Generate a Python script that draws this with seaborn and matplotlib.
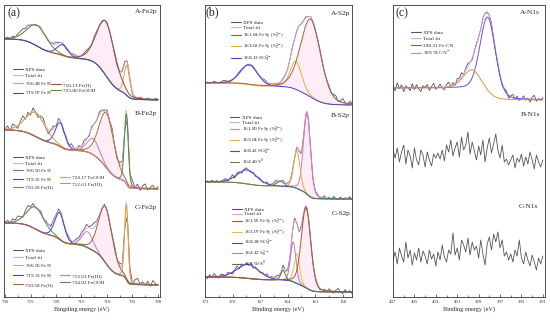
import numpy as np
import matplotlib
matplotlib.use('Agg')
import matplotlib.pyplot as plt
from matplotlib.lines import Line2D
from matplotlib.legend import Legend
from matplotlib.ticker import FixedLocator
import seaborn as sns

# ---------------- data (intensities in arbitrary units, stacked) ----------------
# panel (a) Fe2p
FE_A_LABELS = [r'706.48 FeS$_2$', '710.13 Fe(II)', r'719.07 FeS$_2$', '723.80 FeOOH']
FE_A_CENTER = [706.1, 710.2, 718.7, 723.7]
FE_A_HEIGHT = [30, 54, 11, 21]
FE_A_FWHM = [1.3, 4.2, 2.5, 4.5]
FE_A_BG = [261, 200]
FE_A_RESID = [0, 1, -1, 1.5, 0, 2, 3, 4, 2, 3,
              1, 0, -1, 0, 1, -1, 0, -1, 0, 1,
              2, 1, 0, -1, -2, -1, 0, 1, 0, -1,
              0, 1, 2, 1, 0, 2, 1, 0, -1, 0,
              1, 0, -1, -2, -3, -1, 1, 2, 0, -1,
              -2, -1, 0, 1, 0, -1, 1, 0, -1, 1,
              0]

FE_B_LABELS = [r'706.50 FeS$_2$', r'719.25 FeS$_2$', '710.20 Fe(II)', '724.17 FeOOH', '712.61 Fe(III)']
FE_B_CENTER = [706.2, 719.2, 710.1, 724.0, 712.7]
FE_B_HEIGHT = [70, 24, 55, 24, 16]
FE_B_FWHM = [0.9, 2.2, 3.5, 4.5, 2.8]
FE_B_BG = [170, 111]
FE_B_RESID = [0, 3, -2, 4, 1, -3, 2, 5, -1, 3,
              -2, 4, 0, -3, 2, 4, -1, -4, 1, 3,
              -2, 2, 0, -3, 1, -2, 3, 0, -2, 2,
              -1, 3, 1, -2, 2, 0, -1, 3, 1, -2,
              2, 0, 4, -1, -3, 2, 1, -4, 3, -2,
              4, -1, 3, -3, 2, 4, -2, 1, 3, -1,
              2]

FE_C_LABELS = [r'706.56 FeS$_2$', r'719.33 FeS$_2$', '710.58 Fe(II)', '713.63 Fe(III)', '724.02 FeOOH']
FE_C_CENTER = [706.2, 719.3, 710.3, 713.8, 724.0]
FE_C_HEIGHT = [75, 27, 56, 16, 22]
FE_C_FWHM = [0.8, 2.2, 3.2, 2.5, 4.0]
FE_C_BG = [77, 15]
FE_C_RESID = [0, 2, -1, 3, 1, 4, 2, -1, 3, 5,
              1, 3, -1, 0, 2, -1, 1, 0, -2, 1,
              0, 2, 1, -1, 0, 1, -1, 0, 2, 1,
              3, 2, 4, 1, 3, 5, 2, 0, -1, 1,
              0, -2, 1, 3, -1, 2, 0, -3, 1, 4,
              -2, 3, 5, 0, 2, -1, 3, -2, 4, 1,
              -1]

# panel (b) S2p
S_A_LABELS = [r'161.84 FeS$_2$ (S$_2^{2-}$)', r'163.02 FeS$_2$ (S$_2^{2-}$)', r'168.13 SO$_4^{2-}$']
S_A_CENTER = [161.5, 163.1, 168.2]
S_A_HEIGHT = [78, 28, 20]
S_A_FWHM = [2.6, 1.5, 2.2]
S_A_BG = [217, 195]
S_A_RESID = [0, 0.5, -0.5, 0, 1, 0, -0.5, 0.5, 1.5, 1,
             0, -1, -0.5, 0, 0.5, 1, 0.5, 0, -0.5, -1,
             0, 0.5, 0, -0.5, 0, 0.5, 1, 0, -1, 0,
             0.5, 0, -0.5, 0, 1, 0.5, -0.5, 0, 1, -0.5,
             0, 0.5, -1, 0, 1, -0.5, 0.5, 0, -1, 0.5,
             1, 0, -1, 0.5, 1.5, -1, 2, 3, -1, 1,
             4, 0, -2, 2, 1]

S_B_LABELS = [r'161.80 FeS$_2$ (S$_2^{2-}$)', r'163.04 FeS$_2$ (S$_2^{2-}$)', r'168.42 SO$_4^{2-}$', r'164.40 S$^0$']
S_B_CENTER = [161.9, 163.0, 168.4, 164.8]
S_B_HEIGHT = [82, 38, 14, 5]
S_B_FWHM = [0.9, 0.8, 2.5, 1.0]
S_B_BG = [118, 101]
S_B_RESID = [0, 1, -1, 1.5, -0.5, 1, -1, 0, 1, 2,
             -1, 1, 3, -2, 2, 1, -2, 1, 2, 0,
             -1, 1, -1, 0.5, 1, -1, 0, 1.5, -1, 0,
             1, 2, -1, 0, 1, -1, 0.5, 0, 1, -1,
             0, 1, -1, 0, -1, 1, 0, -2, 0, 1,
             -1, 0, 2, -1, 1, -1, 2, 0, -1, 1.5,
             -1, 1, 0, 2, -1]

S_C_LABELS = [r'161.95 FeS$_2$ (S$_2^{2-}$)', r'163.07 FeS$_2$ (S$_2^{2-}$)', r'168.28 SO$_4^{2-}$',
              r'164.42 S$_n^{2-}$', r'163.50 S$^0$']
S_C_CENTER = [162.0, 163.0, 168.3, 163.4, 164.5]
S_C_HEIGHT = [81, 30, 14, 40, 10]
S_C_FWHM = [1.2, 0.7, 2.8, 0.7, 0.6]
S_C_BG = [23, 8]
S_C_RESID = [1, -2, 2, -1, 3, 0, -2, 2, 1, -1,
             2, 0, -2, 1, 3, -1, 2, 0, 1, -1,
             2, -2, 1, 0, -1, 1, 0, 2, -1, 1,
             0, 2, 1, -1, 3, 0, 1, -1, 0, 2,
             0, -1, 1, 0, -1, 1, 0, -1, 0, 1,
             -1, 0, 1, -1, 2, 0, -2, 1, 3, -1,
             -2, 2, -1, 1, -2]

# panel (c) N1s
N_A_LABELS = ['398.31 Fe-CN', r'399.78 CN$^{-}$']
N_A_CENTER = [398.15, 399.6]
N_A_HEIGHT = [78, 20]
N_A_FWHM = [1.7, 2.0]
N_A_BG = [212, 200]
N_A_RESID = [2, -3, 5, -1, 3, -4, 2, 0, -3, 4,
             -2, 3, -1, -4, 2, 0, 3, -3, 1, 4,
             -2, 0, 3, -1, -3, 2, 4, -1, 2, -2,
             3, 1, 4, -1, 2, 3, 0, -2, 1, 2,
             0, -1, 1, 0, -1, 1, 2, 0, -1, 1,
             0, -2, 1, 2, -3, 1, 3, -1, 2, -2,
             0, 3, -1, 1, -3, 2, 4, -2, 1, -1,
             2]
N_B_DATA = [150, 142, 152, 138, 148, 155, 136, 150, 144, 132,
            152, 140, 135, 150, 145, 133, 148, 140, 134, 146,
            142, 147, 141, 150, 139, 155, 148, 160, 144, 152,
            158, 143, 163, 150, 155, 168, 146, 158, 149, 140,
            154, 145, 160, 138, 152, 162, 147, 156, 166, 150,
            142, 155, 138, 141, 135, 140, 145, 132, 142, 138,
            146, 134, 143, 136, 148, 140, 131, 145, 138, 133,
            140]
N_C_DATA = [40, 48, 36, 52, 44, 38, 58, 42, 50, 35,
            47, 40, 52, 38, 49, 44, 36, 50, 41, 46,
            34, 48, 40, 55, 43, 38, 50, 46, 67, 45,
            52, 40, 60, 55, 48, 62, 45, 58, 50, 54,
            42, 60, 46, 35, 56, 63, 50, 66, 58, 68,
            52, 60, 44, 48, 40, 46, 38, 50, 44, 60,
            42, 36, 48, 40, 34, 45, 38, 30, 42, 36,
            44]

E_FE = np.linspace(730, 700, 601)
E_S = np.linspace(173, 157, 641)
E_N = np.linspace(407, 393, 701)

# ---------------- style ----------------
DATA_C = '#5e5060'
FIT_C = '#d9a6e6'
FILL_C = '#fcedf7'
FE_A_COLORS = ['#e2a23b', '#9c4a3c', '#4b3fd0', '#5a8a3a']
FE_B_COLORS = ['#4f8f3f', '#4b3fd0', '#b06a3a', '#d9a441', '#d27ab8']
FE_C_COLORS = ['#e8a030', '#3d3fd0', '#a0603a', '#c77dbb', '#4f8f3f']
S_A_COLORS = ['#a0603a', '#e0b040', '#4b3fd0']
S_B_COLORS = ['#e07aa8', '#e0b040', '#4b3fd0', '#4f8f3f']
S_C_COLORS = ['#9c5a30', '#e8c040', '#4b3fd0', '#d070c0', '#3f7f3f']
N_A_COLORS = ['#6a4fe0', '#d09a40']

sns.set_style('ticks')
plt.rcParams['font.family'] = ['Liberation Serif', 'DejaVu Serif']
plt.rcParams['mathtext.fontset'] = 'stix'

W, H = 550, 320
LEG_FS = 3.8
fig = plt.figure(figsize=(W / 100, H / 100), dpi=100)


def peak(E, c, h, w, m=0.2):
    d = (E - c) / w
    return h * ((1 - m) * np.exp(-4 * np.log(2) * d ** 2) + m / (1 + 4 * d ** 2))


def shirley(P, bg):
    cum = np.cumsum(P[::-1])[::-1]
    return bg[1] + (bg[0] - bg[1]) * cum / cum[0]


def line(ax, x, y, color, lw=0.6):
    sns.lineplot(x=x, y=y, ax=ax, color=color, lw=lw, sort=False, estimator=None, legend=False)
    return Line2D([], [], color=color, lw=0.8)


def spectrum(ax, E, centers, heights, fwhms, bg, resid, colors, top, fill=None):
    comps = [peak(E, c, h, w) for c, h, w in zip(centers, heights, fwhms)]
    P = np.sum(comps, axis=0)
    B = shirley(P, bg)
    if fill is not None:
        ax.fill_between(E, B, B + comps[fill], color=FILL_C, lw=0, zorder=0)
    h_data = line(ax, E[::10], (B + P)[::10] + np.array(resid), DATA_C)
    h_fit = line(ax, E, B + P, FIT_C)
    handles = [None] * len(comps)
    order = [i for i in range(len(comps)) if i != top] + [top]
    for i in order:
        handles[i] = line(ax, E, B + comps[i], colors[i], lw=0.7)
    return [h_data, h_fit] + handles


def legend(ax, handles, labels, x_px, y_px, spacing=0.35):
    leg = Legend(ax, handles, labels, loc='upper left',
                 bbox_to_anchor=(x_px / W, 1 - y_px / H), bbox_transform=fig.transFigure,
                 frameon=False, fontsize=LEG_FS, handlelength=1.8, handletextpad=0.5,
                 labelspacing=spacing, borderpad=0, borderaxespad=0)
    ax.add_artist(leg)


def make_ax(left, right, top=5, bottom=297):
    ax = fig.add_axes([left / W, 1 - bottom / H, (right - left) / W, (bottom - top) / H])
    ax.set_ylim(3, 295)
    ax.set_yticks([])
    for s in ax.spines.values():
        s.set_linewidth(0.6)
        s.set_color('#333333')
    ax.tick_params(axis='x', which='major', direction='in', length=2, width=0.5,
                   labelsize=3.5, pad=2, colors='#333333')
    ax.tick_params(axis='x', which='minor', direction='in', length=1.2, width=0.4)
    return ax


def head(text, x_px, y_px, size=5.3, ha='right'):
    fig.text(x_px / W, 1 - y_px / H, text, fontsize=size, ha=ha, va='center')


# ---------------- panel (a) ----------------
ax = make_ax(4, 160)
ax.set_xlim(730.2, 699.6)
ax.xaxis.set_major_locator(FixedLocator([730, 725, 720, 715, 710, 705, 700]))
ax.xaxis.set_minor_locator(FixedLocator([727.5, 722.5, 717.5, 712.5, 707.5, 702.5]))
ax.set_xlabel('Bingding energy (eV)', fontsize=4.5, labelpad=2)

hA = spectrum(ax, E_FE, FE_A_CENTER, FE_A_HEIGHT, FE_A_FWHM, FE_A_BG, FE_A_RESID, FE_A_COLORS, 2, fill=1)
legend(ax, [hA[0], hA[1], hA[2], hA[4]], ['XPS data', 'Total fit', FE_A_LABELS[0], FE_A_LABELS[2]], 13, 67)
legend(ax, [hA[3], hA[5]], [FE_A_LABELS[1], FE_A_LABELS[3]], 51, 82)

hB = spectrum(ax, E_FE, FE_B_CENTER, FE_B_HEIGHT, FE_B_FWHM, FE_B_BG, FE_B_RESID, FE_B_COLORS, 2, fill=2)
legend(ax, hB[:5], ['XPS data', 'Total fit'] + FE_B_LABELS[:3], 13, 155, spacing=0.25)
legend(ax, hB[5:], FE_B_LABELS[3:], 60, 175, spacing=0.25)

hC = spectrum(ax, E_FE, FE_C_CENTER, FE_C_HEIGHT, FE_C_FWHM, FE_C_BG, FE_C_RESID, FE_C_COLORS, 2, fill=2)
legend(ax, hC[:5], ['XPS data', 'Total fit'] + FE_C_LABELS[:3], 13, 248, spacing=0.45)
legend(ax, hC[5:], FE_C_LABELS[3:], 60, 273, spacing=0.45)

head('(a)', 7, 13, size=8.5, ha='left')
head('A-Fe2p', 157, 12)
head('B-Fe2p', 157, 113)
head('C-Fe2p', 157, 208)

# ---------------- panel (b) ----------------
ax = make_ax(205, 352)
ax.set_xlim(173, 157)
ax.xaxis.set_major_locator(FixedLocator([173, 170, 167, 164, 161, 158]))
ax.xaxis.set_minor_locator(FixedLocator([171.5, 168.5, 165.5, 162.5, 159.5]))
ax.set_xlabel('Binding energy (eV)', fontsize=4.5, labelpad=2)

h = spectrum(ax, E_S, S_A_CENTER, S_A_HEIGHT, S_A_FWHM, S_A_BG, S_A_RESID, S_A_COLORS, 0, fill=0)
legend(ax, h, ['XPS data', 'Total fit'] + S_A_LABELS, 231, 20, spacing=0.1)
h = spectrum(ax, E_S, S_B_CENTER, S_B_HEIGHT, S_B_FWHM, S_B_BG, S_B_RESID, S_B_COLORS, 3, fill=0)
legend(ax, h, ['XPS data', 'Total fit'] + S_B_LABELS, 230, 115, spacing=0.03)
h = spectrum(ax, E_S, S_C_CENTER, S_C_HEIGHT, S_C_FWHM, S_C_BG, S_C_RESID, S_C_COLORS, 0, fill=0)
legend(ax, h, ['XPS data', 'Total fit'] + S_C_LABELS, 232, 207, spacing=0.0)

head('(b)', 206, 12, size=8.5, ha='left')
head('A-S2p', 350, 14)
head('B-S2p', 350, 115)
head('C-S2p', 350, 213)

# ---------------- panel (c) ----------------
ax = make_ax(393, 545)
ax.set_xlim(407, 392.8)
ax.xaxis.set_major_locator(FixedLocator(list(range(407, 392, -2))))
ax.xaxis.set_minor_locator(FixedLocator(list(range(406, 393, -2))))
ax.set_xlabel('Binding energy (eV)', fontsize=4.5, labelpad=2)

h = spectrum(ax, E_N, N_A_CENTER, N_A_HEIGHT, N_A_FWHM, N_A_BG, N_A_RESID, N_A_COLORS, 1)
legend(ax, h, ['XPS data', 'Total fit'] + N_A_LABELS, 411, 30)
line(ax, E_N[::10], N_B_DATA, '#555555')
line(ax, E_N[::10], N_C_DATA, '#555555')

head('(c)', 395, 13, size=8.5, ha='left')
head('A-N1s', 540, 13)
head('B-N1s', 540, 115)
head('C-N1s', 538, 207)

fig.savefig('out.png', dpi=100)
